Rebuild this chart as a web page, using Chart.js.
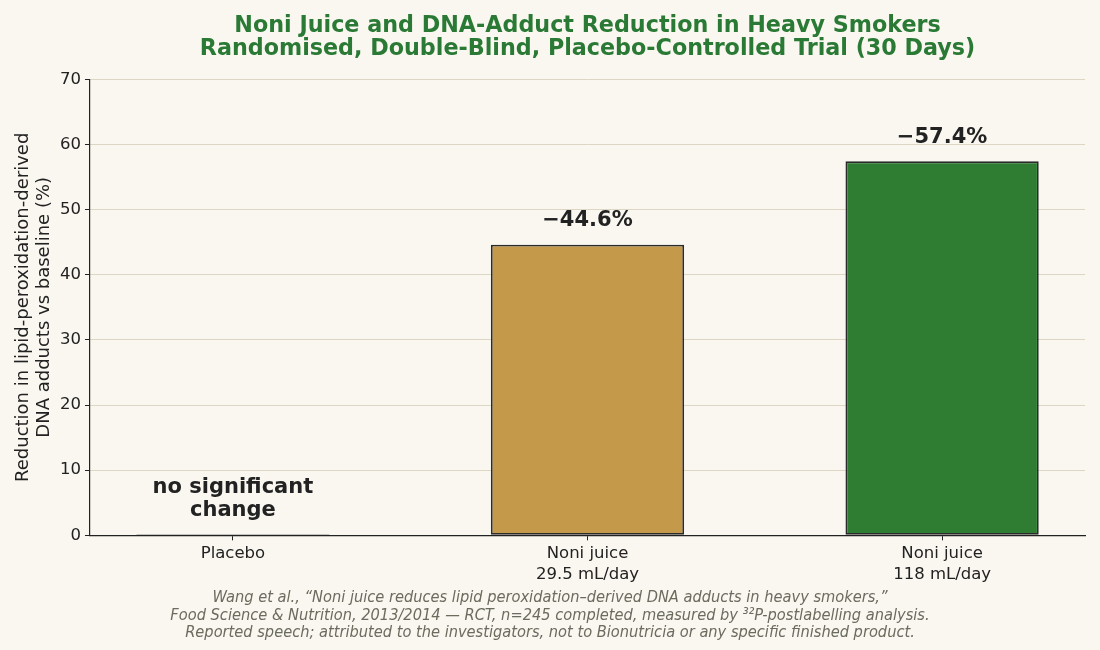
<!DOCTYPE html>
<html>
<head>
<meta charset="utf-8">
<script src="https://cdn.jsdelivr.net/npm/chart.js@4.4.1/dist/chart.umd.min.js"></script>
<style>
  html, body { margin: 0; padding: 0; background: #f9f7f0; }
  #wrap { width: 1100px; height: 650px; }
</style>
</head>
<body>
<div id="wrap"><canvas id="c" width="1100" height="650"></canvas></div>
<script>
// Noni juice RCT — reduction in DNA adducts by arm.

const FONT = "'DejaVu Sans', sans-serif";
const INK = "#222222";
const GRID = "#ddd6c2";
const GREEN = "#2a7a35";

const categories = [["Placebo"], ["Noni juice", "29.5 mL/day"], ["Noni juice", "118 mL/day"]];
const reduction = [0, 44.6, 57.4];
const barLabels = [["no significant", "change"], ["\u221244.6%"], ["\u221257.4%"]];
const barColors = ["#5a5a5a", "#c49a4a", "#2e7d32"];
const yTicks = [0, 10, 20, 30, 40, 50, 60, 70];

const titleLines = [
  "Noni Juice and DNA-Adduct Reduction in Heavy Smokers",
  "Randomised, Double-Blind, Placebo-Controlled Trial (30 Days)",
];
const footLines = [
  "Wang et al., \u201cNoni juice reduces lipid peroxidation\u2013derived DNA adducts in heavy smokers,\u201d",
  "Food Science & Nutrition, 2013/2014 \u2014 RCT, n=245 completed, measured by \u00b3\u00b2P-postlabelling analysis.",
  "Reported speech; attributed to the investigators, not to Bionutricia or any specific finished product.",
];

// value labels above each bar, drawn upward from a fixed gap
const barText = {
  id: "barText",
  afterDatasetsDraw(chart) {
    const { ctx } = chart;
    const meta = chart.getDatasetMeta(0);
    ctx.save();
    ctx.font = "bold 21px " + FONT;
    ctx.fillStyle = INK;
    ctx.textAlign = "center";
    ctx.textBaseline = "middle";
    meta.data.forEach((bar, i) => {
      const lines = barLabels[i];
      lines.forEach((t, j) => {
        const y = bar.y - 24 - (lines.length - 1 - j) * 23;
        ctx.fillText(t, bar.x, y);
      });
    });
    ctx.restore();
  },
};

Chart.defaults.font.family = FONT;
Chart.defaults.color = INK;

new Chart(document.getElementById("c"), {
  type: "bar",
  data: {
    datasets: [{
      data: reduction.map((v, i) => ({ x: i, y: v })),
      backgroundColor: barColors,
      borderColor: "#2b2b2b",
      borderWidth: 1.8,
      borderSkipped: false,
      categoryPercentage: 1,
      barPercentage: 0.545,
      minBarLength: 1,
    }],
  },
  plugins: [barText],
  options: {
    responsive: false,
    animation: false,
    layout: { padding: { left: 0, right: 0, top: 0, bottom: 8 } },
    plugins: {
      legend: { display: false },
      tooltip: { enabled: false },
      title: {
        display: true,
        fullSize: false,
        text: titleLines,
        color: GREEN,
        font: { size: 22.25, weight: "bold", lineHeight: 1.04 },
        padding: { top: 14.5, bottom: 18.5 },
      },
      subtitle: {
        display: true,
        position: "bottom",
        text: footLines,
        color: "#6b6b5e",
        font: { family: "'DejaVu Sans Condensed', 'DejaVu Sans', sans-serif", size: 16.25, style: "italic", lineHeight: 1.08 },
        padding: { top: 0, bottom: 0 },
      },
    },
    scales: {
      x: {
        type: "linear",
        offset: false,
        min: -0.403,
        max: 2.403,
        afterBuildTicks: (s) => { s.ticks = categories.map((_, i) => ({ value: i })); },
        afterFit: (s) => { s.height = 54; },
        ticks: {
          callback: (v) => categories[v],
          font: { size: 16.5, lineHeight: 1.3 },
          padding: 2.5,
          maxRotation: 0,
        },
        grid: { offset: false, drawOnChartArea: false, drawTicks: true, tickLength: 5, tickColor: INK },
        border: { display: true, color: INK, width: 1.2 },
      },
      y: {
        min: 0,
        max: 70,
        afterBuildTicks: (s) => { s.ticks = yTicks.map((v) => ({ value: v })); },
        afterFit: (s) => { s.width = 90; },
        ticks: { font: { size: 16.5 }, padding: 4 },
        grid: { color: GRID, tickColor: INK, tickLength: 5, lineWidth: 1 },
        border: { display: true, color: INK, width: 1.2 },
        title: {
          display: true,
          text: ["Reduction in lipid-peroxidation-derived", "DNA adducts vs baseline (%)"],
          font: { size: 18, lineHeight: 1.17 },
          padding: { top: 13, bottom: 0 },
        },
      },
      // empty right-hand spacer so the plot ends short of the canvas edge
      gap: {
        position: "right",
        min: 0,
        max: 70,
        afterFit: (s) => { s.width = 15; },
        ticks: { display: false },
        grid: { display: false },
        border: { display: false },
      },
    },
  },
});
</script>
</body>
</html>
